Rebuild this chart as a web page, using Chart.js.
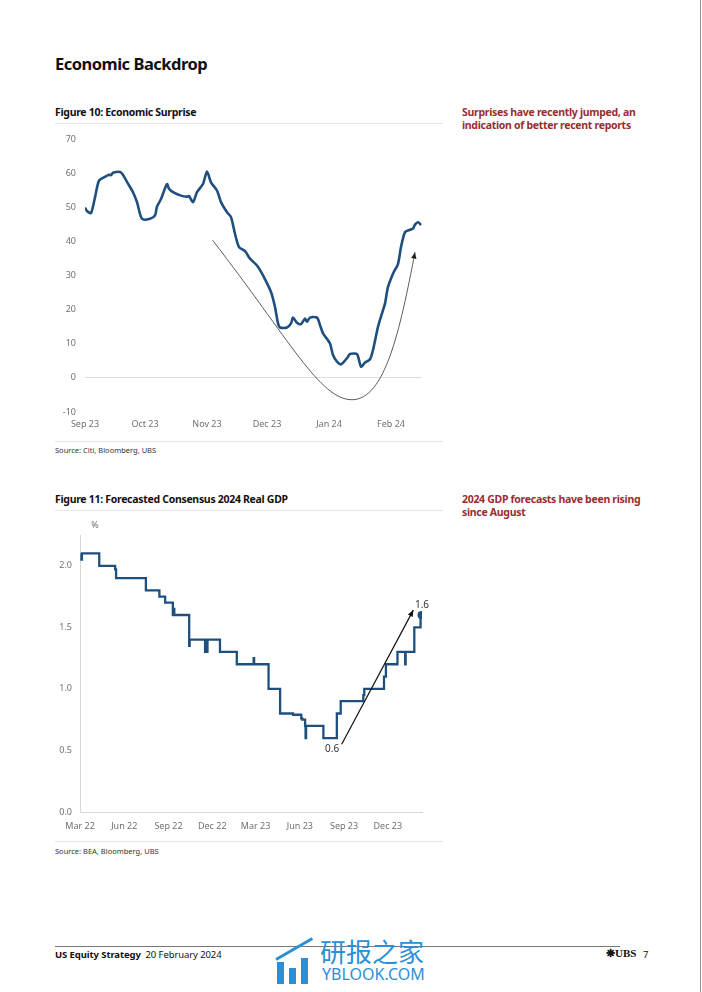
<!DOCTYPE html>
<html>
<head>
<meta charset="utf-8">
<script src="https://cdn.jsdelivr.net/npm/chart.js@4"></script>
<style>
  body { margin: 0; width: 702px; height: 992px; background: #fff; position: relative; font-family: "Noto Sans", sans-serif; overflow: hidden; }
  .abs { position: absolute; white-space: nowrap; }
  .h1 { left: 55px; top: 52px; font-size: 16.5px; font-weight: bold; color: #111; letter-spacing: -0.5px; }
  .fig { left: 55px; font-size: 10.5px; font-weight: bold; color: #111; letter-spacing: -0.3px; }
  .note { left: 462px; font-size: 10.5px; font-weight: bold; color: #9b2c2f; line-height: 13px; letter-spacing: -0.3px; }
  .src { left: 55px; font-size: 7.5px; color: #333; }
  .rule { position: absolute; left: 55px; width: 388px; height: 1px; background: #e6e6e6; }
  canvas { position: absolute; }
</style>
</head>
<body>
<div class="abs h1">Economic Backdrop</div>

<div class="abs fig" style="top:105px">Figure 10: Economic Surprise</div>
<div class="rule" style="top:123px"></div>
<div class="abs note" style="top:106px">Surprises have recently jumped, an<br>indication of better recent reports</div>
<canvas id="surpriseChart" width="390" height="315" style="left:50px;top:125px"></canvas>
<div class="rule" style="top:441px"></div>
<div class="abs src" style="top:445px">Source: Citi, Bloomberg, UBS</div>

<div class="abs fig" style="top:492px">Figure 11: Forecasted Consensus 2024 Real GDP</div>
<div class="rule" style="top:510px"></div>
<div class="abs note" style="top:493px">2024 GDP forecasts have been rising<br>since August</div>
<canvas id="gdpChart" width="390" height="325" style="left:50px;top:515px"></canvas>
<div class="rule" style="top:841px"></div>
<div class="abs src" style="top:846px">Source: BEA, Bloomberg, UBS</div>

<div style="position:absolute;left:55px;top:946px;width:565px;height:1px;background:#777"></div>
<div class="abs" style="left:55px;top:948px;font-size:9.5px;color:#111;letter-spacing:-0.1px"><b>US Equity Strategy</b>&nbsp; 20 February 2024</div>
<div class="abs" style="left:606px;top:947px;font-size:11px;color:#111;font-family:'Liberation Serif',serif"><b>&#10059;UBS</b></div>
<div class="abs" style="left:643px;top:948px;font-size:9.5px;color:#111">7</div>

<div style="position:absolute;left:277px;top:962px;width:7px;height:22px;background:#2b8fd6"></div>
<div style="position:absolute;left:289px;top:968px;width:7px;height:16px;background:#2b8fd6"></div>
<div style="position:absolute;left:301px;top:958px;width:7px;height:26px;background:#2b8fd6"></div>
<div style="position:absolute;left:276px;top:958px;width:42px;height:3px;background:#2b8fd6;transform:rotate(-30deg);transform-origin:left center"></div>
<div class="abs" style="left:320px;top:936px;font-size:26px;color:#2b8fd6;font-family:'Noto Sans CJK SC',sans-serif;line-height:30px">研报之家</div>
<div class="abs" style="left:322px;top:964px;font-size:16px;color:#2b8fd6;line-height:20px">YBLOOK.COM</div>

<div style="position:absolute;left:700px;top:0;width:1px;height:992px;background:#999"></div>

<script>
Chart.defaults.font.family = "'Noto Sans', sans-serif";
Chart.defaults.font.size = 9;
Chart.defaults.color = "#707070";

// Figure 10: days since 1 Sep 2023, Citi economic surprise index
const surpriseDays = [0, 1, 3, 5, 7, 10, 12, 13, 14, 18, 21.5, 24, 26, 28.5, 32.5, 35, 36, 38, 41, 42, 44, 48, 51, 52, 54, 56, 59, 61, 63, 66, 68, 71, 73, 75, 77, 80, 82.5, 86, 89, 93, 95, 96.5, 97.5, 101, 103, 104, 106, 108, 110, 111, 112.5, 116, 117.5, 119, 122.5, 124, 126, 128, 131, 132.5, 136, 138, 140, 142.5, 144, 146.5, 149, 150, 151.5, 154, 156.5, 158, 160, 162.5, 164, 165, 166.5, 168];
const surpriseValues = [50, 49, 48.4, 53, 57.9, 59, 59.6, 59.5, 60.2, 60.3, 57, 54.5, 51.6, 46.7, 46.7, 47.7, 50.3, 52.5, 56.9, 55.5, 54.5, 53.5, 53.2, 53.4, 51.6, 54.5, 56.9, 60.6, 57.4, 55, 51.6, 48.6, 47.2, 42.3, 38.4, 37.2, 35, 33, 30.1, 25.2, 20.8, 16, 14.8, 14.8, 16, 17.7, 16.2, 15.8, 17.4, 16.5, 17.7, 17.7, 15.5, 13.1, 10.1, 6.7, 4.8, 4, 5.8, 7, 7, 3.3, 4.5, 5.5, 8.2, 15, 19.9, 21.8, 26.7, 30.6, 33.5, 38.4, 42.8, 43.5, 43.8, 45, 45.7, 44.9];
const surpriseTickDays = [0, 30, 61, 91, 122, 153];
const surpriseTickLabels = ["Sep 23", "Oct 23", "Nov 23", "Dec 23", "Jan 24", "Feb 24"];
// hand drawn "U" arrow (two cubic segments), in data units
const surpriseCurve = [[63.8, 40.4], [102.5, 11.1], [117.5, -6.4], [133.5, -6.4], [150, -6.4], [157.5, 14], [165, 36.9]];

// Figure 11: days since 1 Mar 2022, consensus 2024 real GDP (%), step starts
const gdpDays = [2, 3, 4, 40, 73, 75, 137, 165, 177, 193, 195, 196, 227, 228, 260, 261, 264, 265, 291, 326, 361, 362, 392, 416, 443, 460, 462, 468, 469, 470, 506, 534, 542, 589, 591, 632, 636, 660, 676, 677, 695, 708, 710];
const gdpValues = [2.1, 2.05, 2.1, 2.0, 1.97, 1.9, 1.8, 1.75, 1.7, 1.6, 1.65, 1.6, 1.35, 1.4, 1.3, 1.4, 1.3, 1.4, 1.3, 1.2, 1.25, 1.2, 1.0, 0.8, 0.79, 0.76, 0.75, 0.7, 0.6, 0.7, 0.6, 0.8, 0.9, 0.95, 1.0, 1.1, 1.2, 1.3, 1.2, 1.3, 1.5, 1.6, 1.6];
const gdpTickDays = [0, 92, 184, 275, 365, 457, 549, 640];
const gdpTickLabels = ["Mar 22", "Jun 22", "Sep 22", "Dec 22", "Mar 23", "Jun 23", "Sep 23", "Dec 23"];
const gdpYTicks = [0, 0.5, 1.0, 1.5, 2.0];
const gdpArrow = [[544, 0.55], [693, 1.64]];
const gdpNotes = [{ x: 524, y: 0.51, text: "0.6" }, { x: 711, y: 1.68, text: "1.6" }];

const lineBlue = "#1f4f7e";

function arrowHead(ctx, x0, y0, x1, y1, size) {
  const a = Math.atan2(y1 - y0, x1 - x0);
  ctx.beginPath();
  ctx.moveTo(x1, y1);
  ctx.lineTo(x1 - size * Math.cos(a - 0.4), y1 - size * Math.sin(a - 0.4));
  ctx.lineTo(x1 - size * Math.cos(a + 0.4), y1 - size * Math.sin(a + 0.4));
  ctx.closePath();
  ctx.fill();
}

const surpriseCurvePlugin = {
  id: "surpriseCurve",
  afterDatasetsDraw(chart) {
    const { ctx, scales: { x, y } } = chart;
    const p = surpriseCurve.map(([d, v]) => [x.getPixelForValue(d), y.getPixelForValue(v)]);
    ctx.save();
    ctx.strokeStyle = "#333";
    ctx.fillStyle = "#222";
    ctx.lineWidth = 0.8;
    ctx.beginPath();
    ctx.moveTo(p[0][0], p[0][1]);
    ctx.bezierCurveTo(p[1][0], p[1][1], p[2][0], p[2][1], p[3][0], p[3][1]);
    ctx.bezierCurveTo(p[4][0], p[4][1], p[5][0], p[5][1], p[6][0], p[6][1]);
    ctx.stroke();
    arrowHead(ctx, p[5][0], p[5][1], p[6][0], p[6][1], 7);
    ctx.restore();
  },
};

new Chart(document.getElementById("surpriseChart"), {
  type: "line",
  data: {
    datasets: [
      {
        data: surpriseDays.map((d, i) => ({ x: d, y: surpriseValues[i] })),
        borderColor: lineBlue,
        borderWidth: 2.6,
        pointRadius: 0,
        tension: 0.25,
      },
    ],
  },
  options: {
    responsive: false,
    animation: false,
    layout: { padding: { top: 3, right: 18, bottom: 8, left: 0 } },
    plugins: { legend: { display: false }, tooltip: { enabled: false } },
    scales: {
      x: {
        type: "linear",
        min: 0,
        max: 168.5,
        afterFit: (s) => { s.height = 20; },
        afterBuildTicks: (s) => { s.ticks = surpriseTickDays.map((v) => ({ value: v })); },
        ticks: {
          padding: 7,
          maxRotation: 0,
          autoSkip: false,
          callback: (v) => surpriseTickLabels[surpriseTickDays.indexOf(v)],
        },
        grid: { display: false, drawTicks: false },
        border: { display: false },
      },
      y: {
        min: -10,
        max: 70,
        afterFit: (s) => { s.width = 35; },
        ticks: { stepSize: 10, padding: 9 },
        grid: {
          drawTicks: false,
          color: (c) => (c.tick && c.tick.value === 0 ? "#dcdcdc" : "rgba(0,0,0,0)"),
        },
        border: { display: false },
      },
    },
  },
  plugins: [surpriseCurvePlugin],
});

const gdpNotesPlugin = {
  id: "gdpNotes",
  afterDatasetsDraw(chart) {
    const { ctx, chartArea, scales: { x, y } } = chart;
    const [a, b] = gdpArrow.map(([d, v]) => [x.getPixelForValue(d), y.getPixelForValue(v)]);
    ctx.save();
    ctx.strokeStyle = "#111";
    ctx.fillStyle = "#111";
    ctx.lineWidth = 1.2;
    ctx.beginPath();
    ctx.moveTo(a[0], a[1]);
    ctx.lineTo(b[0], b[1]);
    ctx.stroke();
    arrowHead(ctx, a[0], a[1], b[0], b[1], 7);
    ctx.font = "10px 'Noto Sans', sans-serif";
    ctx.fillStyle = "#333";
    ctx.textAlign = "center";
    ctx.textBaseline = "middle";
    gdpNotes.forEach((n) => ctx.fillText(n.text, x.getPixelForValue(n.x), y.getPixelForValue(n.y)));
    ctx.fillStyle = "#707070";
    ctx.font = "9px 'Noto Sans', sans-serif";
    ctx.fillText("%", chartArea.left + 15, chartArea.top - 10);
    ctx.restore();
  },
};

const lastGdp = gdpDays.length - 1;
new Chart(document.getElementById("gdpChart"), {
  type: "line",
  data: {
    datasets: [
      {
        data: gdpDays.map((d, i) => ({ x: d, y: gdpValues[i] })),
        borderColor: lineBlue,
        backgroundColor: lineBlue,
        borderWidth: 2.3,
        stepped: true,
        pointRadius: (c) => (c.dataIndex === lastGdp ? 4 : 0),
        pointBorderWidth: 0,
      },
    ],
  },
  options: {
    responsive: false,
    animation: false,
    layout: { padding: { top: 20, right: 18, bottom: 8, left: 0 } },
    plugins: { legend: { display: false }, tooltip: { enabled: false } },
    scales: {
      x: {
        type: "linear",
        min: 0,
        max: 711,
        afterFit: (s) => { s.height = 20; },
        afterBuildTicks: (s) => { s.ticks = gdpTickDays.map((v) => ({ value: v })); },
        ticks: {
          padding: 9,
          maxRotation: 0,
          autoSkip: false,
          callback: (v) => gdpTickLabels[gdpTickDays.indexOf(v)],
        },
        grid: { display: false, drawTicks: false },
        border: { display: true, color: "#d8d8d8", width: 1 },
      },
      y: {
        min: 0,
        max: 2.25,
        afterFit: (s) => { s.width = 30; },
        afterBuildTicks: (s) => { s.ticks = gdpYTicks.map((v) => ({ value: v })); },
        ticks: { padding: 8, callback: (v) => v.toFixed(1) },
        grid: { display: false, drawTicks: false },
        border: { display: true, color: "#d8d8d8", width: 1 },
      },
    },
  },
  plugins: [gdpNotesPlugin],
});
</script>
</body>
</html>
